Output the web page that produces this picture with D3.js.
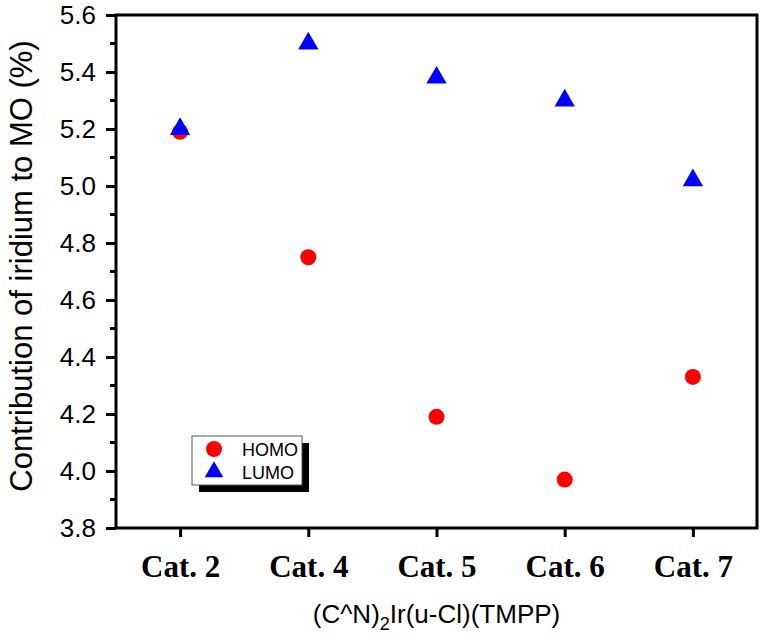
<!DOCTYPE html>
<html><head><meta charset="utf-8">
<script src="https://cdn.jsdelivr.net/npm/d3@7"></script>
<style>body{margin:0;background:#fff}svg{display:block}</style>
</head><body>
<script>
const categories = ["Cat. 2","Cat. 4","Cat. 5","Cat. 6","Cat. 7"];
const homo = [5.19, 4.75, 4.19, 3.97, 4.33];
const lumo = [5.20, 5.50, 5.38, 5.30, 5.02];
const yTicks = [3.8,4.0,4.2,4.4,4.6,4.8,5.0,5.2,5.4,5.6];
const seriesNames = ["HOMO","LUMO"];

const W=762,H=643;
const m={l:116,r:757,t:15,b:528};
const svg=d3.select("body").append("svg").attr("width",W).attr("height",H);
const x=d3.scalePoint().domain(categories).range([m.l,m.r]).padding(0.5);
const y=d3.scaleLinear().domain([3.8,5.6]).range([m.b,m.t]);
const sans="Arial, 'Liberation Sans', sans-serif";

// y axis
const ya=d3.axisLeft(y).tickValues(yTicks).tickFormat(d3.format(".1f")).tickSize(10).tickPadding(10);
const gy=svg.append("g").attr("transform",`translate(${m.l},0)`).call(ya);
gy.attr("font-size",null).attr("font-family",null);
gy.select(".domain").remove();
gy.selectAll(".tick line").attr("stroke","#000").attr("stroke-width",3);
gy.selectAll(".tick text").style("font-family",sans).style("font-size","26px").attr("fill","#000");
// minor ticks
const minor=d3.range(0,9).map(i=>3.9+i*0.2);
svg.append("g").selectAll("line").data(minor).join("line")
  .attr("x1",m.l-6).attr("x2",m.l).attr("y1",d=>y(d)).attr("y2",d=>y(d))
  .attr("stroke","#000").attr("stroke-width",3);

// x axis
const xa=d3.axisBottom(x).tickSize(9).tickPadding(0);
const gx=svg.append("g").attr("transform",`translate(0,${m.b})`).call(xa);
gx.attr("font-size",null).attr("font-family",null);
gx.select(".domain").remove();
gx.selectAll(".tick line").attr("stroke","#000").attr("stroke-width",3);
gx.selectAll(".tick text").attr("dy",null).attr("y",49)
  .style("font-family","'Times New Roman', 'Liberation Serif', serif").style("font-weight","bold").style("font-size","31px").attr("fill","#000");

// frame
svg.append("rect").attr("x",m.l).attr("y",m.t).attr("width",m.r-m.l).attr("height",m.b-m.t)
  .attr("fill","none").attr("stroke","#000").attr("stroke-width",3);

// data
svg.append("g").selectAll("circle").data(homo).join("circle")
  .attr("cx",(d,i)=>x(categories[i])).attr("cy",d=>y(d)).attr("r",8).attr("fill","#ff0000");
const tri=d3.symbol().type(d3.symbolTriangle).size(180);
svg.append("g").selectAll("path").data(lumo).join("path")
  .attr("transform",(d,i)=>`translate(${x(categories[i])},${y(d)})`).attr("d",tri).attr("fill","#0000ff");

// legend
const lg=svg.append("g");
lg.append("rect").attr("x",199).attr("y",443).attr("width",110).attr("height",49).attr("fill","#000");
lg.append("rect").attr("x",192).attr("y",436).attr("width",110).attr("height",49).attr("fill","#fff").attr("stroke","#555").attr("stroke-width",1);
lg.append("circle").attr("cx",214).attr("cy",449).attr("r",8).attr("fill","#ff0000");
lg.append("path").attr("transform","translate(214,472)").attr("d",d3.symbol().type(d3.symbolTriangle).size(150)()).attr("fill","#0000ff");
lg.selectAll("text").data(seriesNames).join("text")
  .attr("x",242).attr("y",(d,i)=>456+i*23).text(d=>d)
  .style("font-family",sans).style("font-size","18px").attr("fill","#000");

// titles
const xt=svg.append("text").attr("x",(m.l+m.r)/2).attr("y",623).attr("text-anchor","middle")
  .style("font-family",sans).style("font-size","26px").attr("fill","#000");
xt.append("tspan").text("(C^N)");
xt.append("tspan").text("2").style("font-size","18px").attr("dy",7);
xt.append("tspan").text("Ir(u-Cl)(TMPP)").attr("dy",-7);

svg.append("text").attr("transform",`translate(32,${266}) rotate(-90)`).attr("text-anchor","middle")
  .style("font-family",sans).style("font-size","31px").attr("fill","#000")
  .text("Contribution of iridium to MO (%)");
</script>
</body></html>
